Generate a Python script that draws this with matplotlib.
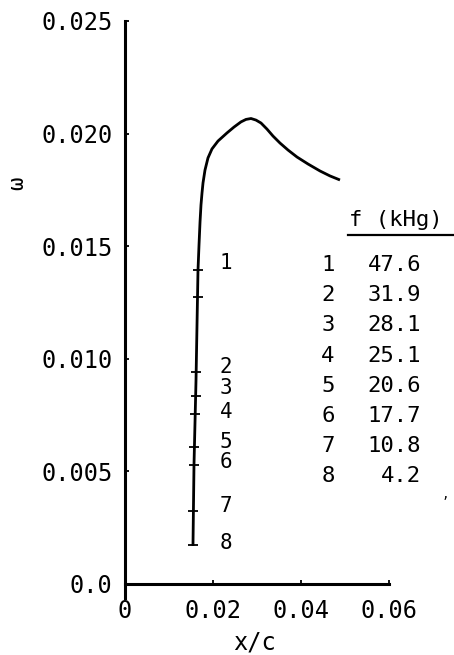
import numpy as np
import matplotlib
matplotlib.use("Agg")
import matplotlib.pyplot as plt
from matplotlib.lines import Line2D
from matplotlib.ticker import FixedLocator, FixedFormatter

plt.rcParams['font.family'] = ['DejaVu Sans Mono', 'DejaVu Sans']

# ---- data ----
curve_x = [0.01545, 0.01568, 0.01614, 0.01659, 0.01682, 0.01705, 0.01727, 0.01750,
           0.01773, 0.01818, 0.01886, 0.01977, 0.02114, 0.02318, 0.02477, 0.02636,
           0.02750, 0.02864, 0.02977, 0.03091, 0.03227, 0.03364, 0.03523, 0.03705,
           0.03909, 0.04159, 0.04432, 0.04659, 0.04886]
curve_y = [0.00169, 0.00528, 0.00906, 0.01394, 0.01505, 0.01607, 0.01683, 0.01736,
           0.01781, 0.01838, 0.01892, 0.01932, 0.01967, 0.02003, 0.02029, 0.02052,
           0.02063, 0.02067, 0.02060, 0.02047, 0.02020, 0.01989, 0.01958, 0.01927,
           0.01896, 0.01865, 0.01834, 0.01812, 0.01794]

mark_y = [0.01394, 0.01274, 0.00941, 0.00835, 0.00755, 0.00608, 0.00528, 0.00324, 0.00173]

point_labels = ['1', '2', '3', '4', '5', '6', '7', '8']
point_label_y = [0.01425, 0.00964, 0.00870, 0.00764, 0.00630, 0.00542, 0.00346, 0.00182]

table_ids = [1, 2, 3, 4, 5, 6, 7, 8]
table_f = [47.6, 31.9, 28.1, 25.1, 20.6, 17.7, 10.8, 4.2]
table_title = 'f (kHg)'

xticks = [0.0, 0.02, 0.04, 0.06]
xtick_labels = ['0', '0.02', '0.04', '0.06']
yticks = [0.0, 0.005, 0.010, 0.015, 0.020, 0.025]
ytick_labels = ['0.0', '0.005', '0.010', '0.015', '0.020', '0.025']

x_label = 'x/c'
y_label = 'ω'

# ---- figure ----
W, H = 454, 655
fig = plt.figure(figsize=(W / 100, H / 100), dpi=100)
ax_left, ax_right, ax_top, ax_bottom = 125, 389, 21, 597.5
ax = fig.add_axes([ax_left / W, 1 - ax_bottom / H, (ax_right - ax_left) / W,
                   (ax_bottom - ax_top) / H])
ax.set_xlim(0, 0.06)
ax.set_ylim(-0.0006, 0.025)

for s in ['top', 'right']:
    ax.spines[s].set_visible(False)
ax.spines['bottom'].set_position(('data', 0))
for s in ['left', 'bottom']:
    ax.spines[s].set_linewidth(2.2)
    ax.spines[s].set_color('black')

ax.xaxis.set_major_locator(FixedLocator(xticks))
ax.xaxis.set_major_formatter(FixedFormatter(xtick_labels))
ax.yaxis.set_major_locator(FixedLocator(yticks))
ax.yaxis.set_major_formatter(FixedFormatter(ytick_labels))
ax.tick_params(axis='both', direction='in', length=3, width=1.3, labelsize=17, colors='black')
ax.tick_params(axis='y', pad=9)
ax.tick_params(axis='x', pad=11)

# curve
ax.plot(curve_x, curve_y, color='black', lw=2.0, solid_joinstyle='round', solid_capstyle='butt')

# tick marks on the rising part of the curve
peak = int(np.argmax(curve_y))
rise_x = curve_x[:peak + 1]
rise_y = curve_y[:peak + 1]
mark_x = np.interp(mark_y, rise_y, rise_x)
ax.plot(mark_x, mark_y, linestyle='none', marker='_', markersize=7, mew=1.3, color='black')

# point labels
for lab, yy in zip(point_labels, point_label_y):
    ax.text(0.02295, yy, lab, fontsize=15, ha='center', va='center', color='black')

# table
row0_py = 265
row_dy = 30.2
def py2y(py):
    return (584 - py) * 0.005 / 112.6
def px2x(px):
    return (px - 125) * 0.02 / 88

for i, (tid, fv) in enumerate(zip(table_ids, table_f)):
    yy = py2y(row0_py + row_dy * i)
    ax.text(px2x(328), yy, str(tid), fontsize=16, ha='center', va='center', color='black', clip_on=False)
    ax.text(px2x(421), yy, f'{fv:.1f}', fontsize=16, ha='right', va='center', color='black', clip_on=False)

ax.text(px2x(349), py2y(220), table_title, fontsize=16, ha='left', va='center', color='black', clip_on=False)
fig.add_artist(Line2D([348 / W, 454 / W], [1 - 234.5 / H, 1 - 234.5 / H], color='black', lw=1.6))

# stray mark
fig.text(445 / W, 1 - 495 / H, ',', fontsize=9, ha='center', va='center', color='black')

# axis labels
fig.text(254 / W, 1 - 642 / H, x_label, fontsize=17, ha='center', va='center', color='black')
fig.text(17 / W, 1 - 183 / H, y_label, fontsize=16, ha='center', va='center', rotation=90, color='black')

fig.savefig('out.png', dpi=100)
